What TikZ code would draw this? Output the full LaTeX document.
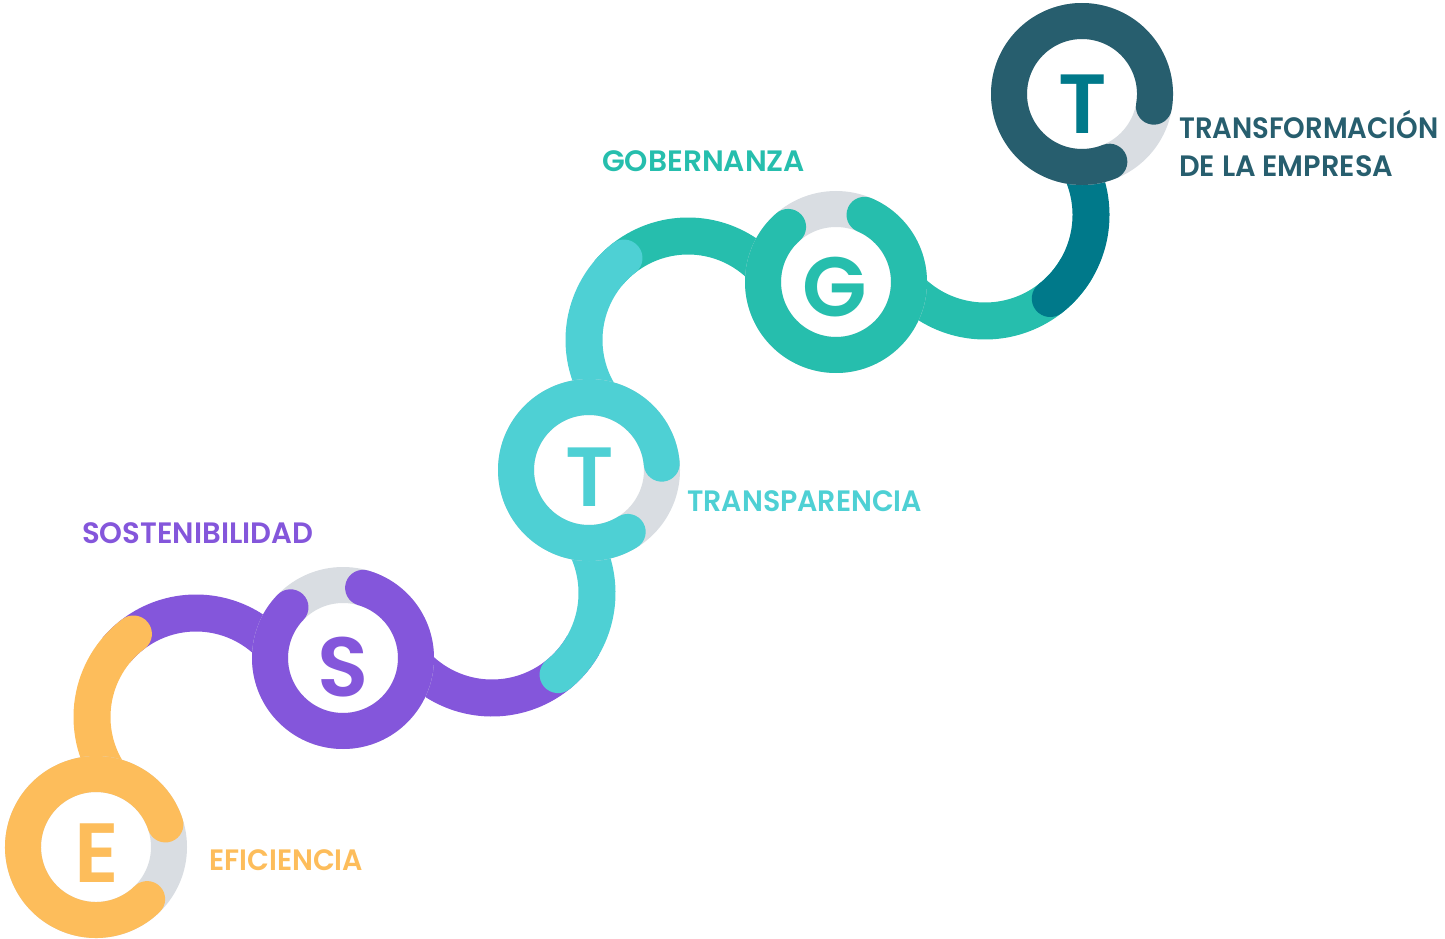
\documentclass[tikz,border=0pt]{standalone}
\usepackage{fontspec}
\usepackage{graphicx}
\setmainfont{Poppins}
\newfontface\semib{Poppins SemiBold}
\definecolor{cE}{HTML}{FDBD5B}
\definecolor{cS}{HTML}{8456DB}
\definecolor{cT}{HTML}{4ED0D4}
\definecolor{cG}{HTML}{26BEAD}
\definecolor{cD}{HTML}{275E6E}
\definecolor{cTeal}{HTML}{00798A}
\definecolor{cGray}{HTML}{D9DDE2}
\newcommand{\fitw}[2]{\resizebox{#1pt}{\height}{#2}}
\tikzset{
  conn/.style={line width=37pt},
  connr/.style={line width=37pt, line cap=round},
  ringbase/.style={draw=cGray, line width=36pt},
  ringarc/.style={line width=36pt, line cap=round},
  hole/.style={fill=white, draw=none},
  letter/.style={anchor=base, inner sep=0pt, font=\fontsize{84}{84}\selectfont\semib},
  lbl/.style={anchor=base west, inner sep=0pt, font=\fontsize{29.5}{30}\selectfont\semib},
}
\begin{document}
\begin{tikzpicture}[x=1pt,y=1pt]
\useasboundingbox (0,0) rectangle (1445,-939);
% centres
\coordinate (E) at (96,-847);
\coordinate (S) at (343,-658);
\coordinate (T) at (589,-470);
\coordinate (G) at (836,-282);
\coordinate (TT) at (1082,-94);
\coordinate (C1) at (196,-717);
\coordinate (C2) at (492,-593);
\coordinate (C3) at (688,-340);
\coordinate (C4) at (985,-215);
% connectors
\draw[conn, draw=cS] (C1) ++(25:104pt) arc[start angle=25, end angle=140, radius=104pt];
\draw[connr, draw=cE] (C1) ++(215:104pt) arc[start angle=215, end angle=127, radius=104pt];
\draw[conn, draw=cS] (C2) ++(215:105pt) arc[start angle=215, end angle=330, radius=105pt];
\draw[connr, draw=cT] (C2) ++(40:105pt) arc[start angle=40, end angle=-51, radius=105pt];
\draw[conn, draw=cG] (C3) ++(25:104pt) arc[start angle=25, end angle=140, radius=104pt];
\draw[connr, draw=cT] (C3) ++(222:104pt) arc[start angle=222, end angle=128, radius=104pt];
\draw[conn, draw=cG] (C4) ++(215:106pt) arc[start angle=215, end angle=330, radius=106pt];
\draw[connr, draw=cTeal] (C4) ++(40:106pt) arc[start angle=40, end angle=-52, radius=106pt];
% rings
\foreach \c in {E,S,T,G,TT}{
  \fill[hole] (\c) circle[radius=56pt];
  \draw[ringbase] (\c) circle[radius=73pt];
}
\draw[ringarc, draw=cE] (E) ++(18:73pt) arc[start angle=18, end angle=314.5, radius=73pt];
\draw[ringarc, draw=cS] (S) ++(136:73pt) arc[start angle=136, end angle=434, radius=73pt];
\draw[ringarc, draw=cT] (T) ++(5:73pt) arc[start angle=5, end angle=302, radius=73pt];
\draw[ringarc, draw=cG] (G) ++(131:73pt) arc[start angle=131, end angle=427, radius=73pt];
\draw[ringarc, draw=cD] (TT) ++(-10:73pt) arc[start angle=-10, end angle=292, radius=73pt];
% letters
\node[letter, text=cE] (lE) at (96.5,-882) {E};
\node[letter, text=cS] (lS) at (343.5,-696) {S};
\node[letter, text=cT] (lT) at (589.5,-506) {T};
\node[letter, text=cG] (lG) at (834.5,-316) {G};
\node[letter, text=cTeal] (lTT) at (1082.5,-134) {T};
% labels
\node[lbl, text=cE] (tE) at (209,-870) {\fitw{154}{EFICIENCIA}};
\node[lbl, text=cS] (tS) at (82,-543) {\fitw{231}{SOSTENIBILIDAD}};
\node[lbl, text=cT] (tT) at (687,-511) {\fitw{235}{TRANSPARENCIA}};
\node[lbl, text=cG] (tG) at (602,-171.7) {\fitw{203}{GOBERNANZA}};
\node[lbl, text=cD] (tTT1) at (1179,-139) {\fitw{259}{TRANSFORMACIÓN}};
\node[lbl, text=cD] (tTT2) at (1179,-176.7) {\fitw{214}{DE LA EMPRESA}};
\end{tikzpicture}
\end{document}
